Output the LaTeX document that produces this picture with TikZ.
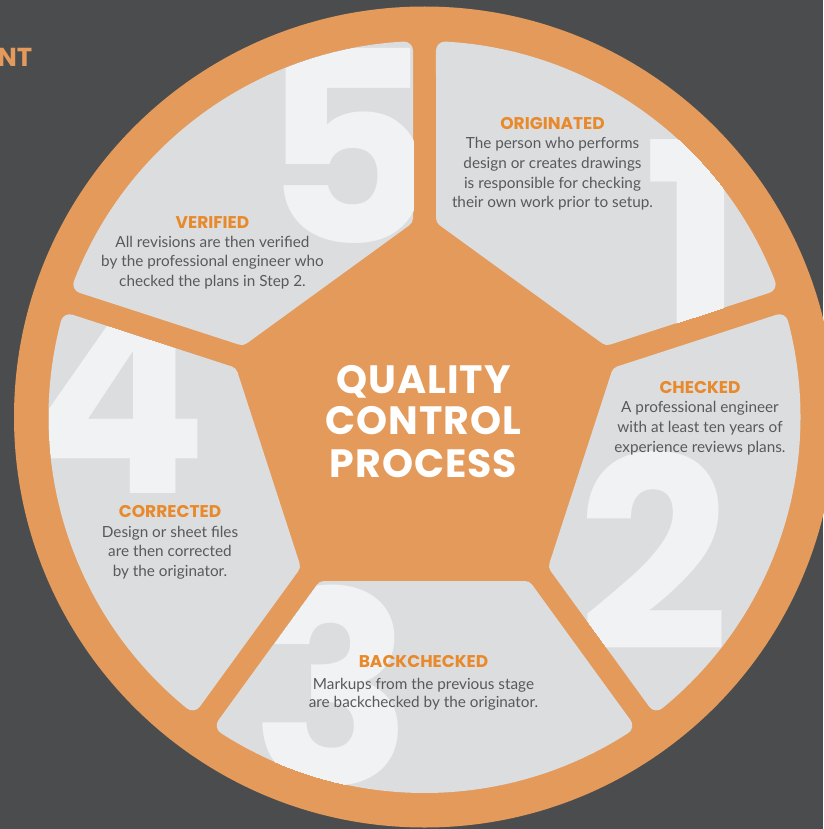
\documentclass[tikz,border=0pt]{standalone}
\usepackage{fontspec}
\setmainfont{Lato}
\newfontfamily\popp{Poppins}
\newfontfamily\poppwide{Poppins}[LetterSpace=2.5]
\definecolor{bgc}{HTML}{4B4C4E}
\definecolor{ringc}{HTML}{E39A5B}
\definecolor{segc}{HTML}{DCDDDF}
\definecolor{numc}{HTML}{F1F2F3}
\definecolor{headc}{HTML}{E8892B}
\definecolor{bodyc}{HTML}{58595B}
\newcommand\qcblock[5]{%
  \node[headtxt] (#1) at (#2,-#3) {#4};
  \foreach \by/\bt [count=\i] in {#5} \node[bodytxt] (#1-\i) at (#2,-\by) {\bt};
}
\begin{document}
\begin{tikzpicture}[x=1pt,y=1pt,
  segment/.style={fill=segc, draw=segc, line width=18pt, line join=round},
  numeral/.style={font=\popp\bfseries\fontsize{267}{267}\selectfont, text=numc, anchor=base, inner sep=0pt},
  headtxt/.style={font=\popp\bfseries\fontsize{17}{17}\selectfont, text=headc, anchor=base, inner sep=0pt},
  bodytxt/.style={font=\fontsize{15.3}{18}\selectfont, text=bodyc, anchor=base, inner sep=0pt},
  titletxt/.style={font=\poppwide\bfseries\fontsize{39.5}{39.5}\selectfont, text=white, anchor=base, inner sep=0pt}]
\def\cx{424.5}\def\cy{-417}
\pgfmathsetmacro\yA{(173 - 20.5*sin(36))/cos(36)*sin(36) - 20.5*cos(36)}
\pgfmathsetmacro\aA{36 - asin(20.5/367)}
\pgfmathsetmacro\yB{(164 - 11.5*sin(36))/cos(36)*sin(36) - 11.5*cos(36)}
\pgfmathsetmacro\aB{36 - asin(11.5/376)}
\useasboundingbox (0,0) rectangle (823,-829);
\fill[bgc] (0,0) rectangle (823,-829);
\node[font=\popp\bfseries\fontsize{26}{26}\selectfont, text=ringc, anchor=base east, inner sep=0pt] (nt) at (32.5,-67) {NT};
\fill[ringc] (\cx,\cy) circle[radius=410.5];
\foreach \ang/\num/\nx/\ny [count=\k] in {54/1/694/334, -18/2/654/650, -90/3/332/784, -162/4/118/493, 126/5/348/243} {
  \fill[segment, shift={(\cx,\cy)}, rotate=\ang] (173,-\yA) -- (173,\yA) -- (\aA:367) arc[start angle=\aA, end angle=-\aA, radius=367] -- cycle;
  \begin{scope}
    \clip[shift={(\cx,\cy)}, rotate=\ang] (164,-\yB) -- (164,\yB) -- (\aB:376) arc[start angle=\aB, end angle=-\aB, radius=376] -- cycle;
    \node[numeral] (n\k) at (\nx,-\ny) {\num};
  \end{scope}
}
\node[titletxt] (t1) at (423.5,-393) {QUALITY};
\node[titletxt] (t2) at (423.5,-434) {CONTROL};
\node[titletxt] (t3) at (423.5,-477) {PROCESS};
\qcblock{orig}{552.5}{130}{ORIGINATED}{149/The person who performs, 168.5/design or creates drawings, 188/is responsible for checking, 207.5/their own work prior to setup.}
\qcblock{chk}{700}{393}{CHECKED}{412.5/A professional engineer, 432/with at least ten years of, 452/experience reviews plans.}
\qcblock{back}{423.5}{667}{BACKCHECKED}{689/Markups from the previous stage, 707/are backchecked by the originator.}
\qcblock{corr}{170}{517}{CORRECTED}{537/Design or sheet files, 556.5/are then corrected, 576/by the originator.}
\qcblock{ver}{212.5}{228}{VERIFIED}{247/All revisions are then verified, 266.5/by the professional engineer who, 286/checked the plans in Step 2.}
\end{tikzpicture}
\end{document}
